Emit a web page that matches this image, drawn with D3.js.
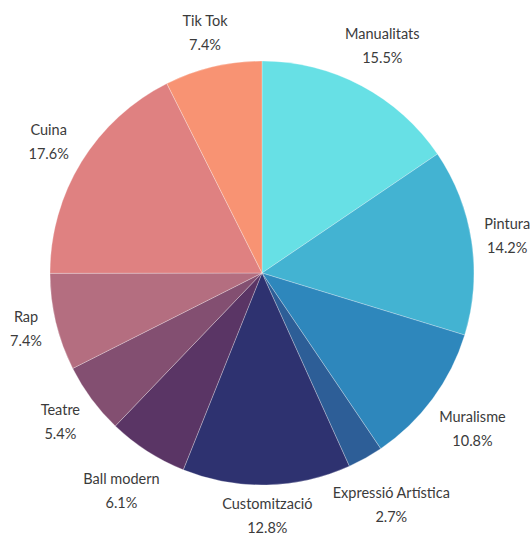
<!DOCTYPE html>
<html>
<head>
<meta charset="utf-8">
<script src="https://cdn.jsdelivr.net/npm/d3@7"></script>
<style>
  html, body { margin: 0; padding: 0; background: #fff; }
  svg { display: block; }
</style>
</head>
<body>
<div id="chart"></div>
<script>
// Activity categories, clockwise from 12 o'clock
const categories = ["Manualitats", "Pintura", "Muralisme", "Expressió Artística", "Customització",
                    "Ball modern", "Teatre", "Rap", "Cuina", "Tik Tok"];
const shares = [15.5, 14.2, 10.8, 2.7, 12.8, 6.1, 5.4, 7.4, 17.6, 7.4];
const valueLabels = ["15.5%", "14.2%", "10.8%", "2.7%", "12.8%", "6.1%", "5.4%", "7.4%", "17.6%", "7.4%"];
const palette = ["#67e0e5", "#43b3d2", "#2e87bc", "#2d5e97", "#2e3270",
                 "#5a3565", "#834f71", "#b46e80", "#df8181", "#f89373"];

const width = 531, height = 535;
const cx = 262, cy = 273, radius = 212;
const labelGap = 11;

const svg = d3.select("#chart").append("svg")
  .attr("width", width).attr("height", height);

const g = svg.append("g").attr("transform", `translate(${cx},${cy})`);

const data = categories.map((c, i) => ({ name: c, value: shares[i], label: valueLabels[i] }));

const color = d3.scaleOrdinal().domain(categories).range(palette);

const pie = d3.pie().value(d => d.value).sort(null);
const arc = d3.arc().innerRadius(0).outerRadius(radius);
const arcs = pie(data);

g.selectAll("path.slice")
  .data(arcs)
  .join("path")
  .attr("class", "slice")
  .attr("d", arc)
  .attr("fill", d => color(d.data.name))
  .attr("stroke", "rgba(255,255,255,0.45)")
  .attr("stroke-width", 0.6);

// Labels: name + percentage, pushed outward along the slice's mid-angle
// until the text box clears the pie by labelGap.
const labels = g.selectAll("g.label")
  .data(arcs)
  .join("g")
  .attr("class", "label");

const txt = labels.append("text")
  .attr("text-anchor", "middle")
  .attr("font-family", "Lato, 'Noto Sans', sans-serif")
  .attr("font-size", 14.5)
  .attr("fill", "#3b3b3b");

txt.append("tspan").attr("x", 0).attr("y", -12).attr("dy", "0.35em").text(d => d.data.name);
txt.append("tspan").attr("x", 0).attr("y", 12).attr("dy", "0.35em").text(d => d.data.label);

function boxDistance(px, py, hw, hh) {
  // distance from origin to the nearest point of a box centred at (px,py)
  const nx = Math.max(Math.abs(px) - hw, 0);
  const ny = Math.max(Math.abs(py) - hh, 0);
  return Math.hypot(nx, ny);
}

labels.each(function(d) {
  const bb = this.getBBox();
  const hw = bb.width / 2, hh = 20;
  const a = (d.startAngle + d.endAngle) / 2;
  const ux = Math.sin(a), uy = -Math.cos(a);
  const target = radius + labelGap;
  let lo = 0, hi = radius * 2;
  for (let k = 0; k < 40; k++) {
    const mid = (lo + hi) / 2;
    if (boxDistance(ux * mid, uy * mid, hw, hh) < target) lo = mid; else hi = mid;
  }
  d3.select(this).attr("transform", `translate(${ux * hi},${uy * hi})`);
});
</script>
</body>
</html>
